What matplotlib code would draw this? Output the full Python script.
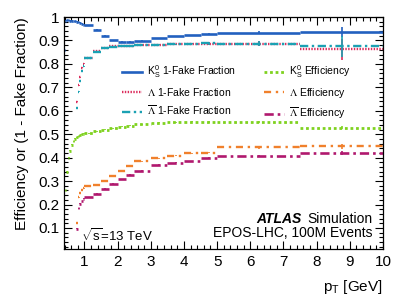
import numpy as np
import matplotlib
matplotlib.use("Agg")
import matplotlib.pyplot as plt
from matplotlib.lines import Line2D
from matplotlib.ticker import MultipleLocator, FuncFormatter

plt.rcParams["font.family"] = ["Liberation Sans", "DejaVu Sans"]
plt.rcParams["mathtext.fontset"] = "custom"
plt.rcParams["mathtext.rm"] = "Liberation Sans"
plt.rcParams["mathtext.it"] = "Liberation Sans:italic"

# pT bin edges [GeV]
edges = np.array([0.35, 0.40, 0.45, 0.50, 0.55, 0.60, 0.65, 0.70, 0.75, 0.80,
                  0.85, 0.90, 0.95, 1.00, 1.25, 1.50, 1.75, 2.00, 2.25, 2.50,
                  3.00, 3.50, 4.00, 4.50, 5.00, 7.50, 10.0])
nan = np.nan

# 1 - fake fraction
k0s_fake = [0.86, 0.985, 0.986, 0.986, 0.985, 0.984, 0.983, 0.982, 0.980, 0.978,
            0.975, 0.972, 0.968,
            0.964, 0.945, 0.920, 0.900, 0.894, 0.894, 0.899, 0.910, 0.917, 0.922,
            0.928, 0.934, 0.935]
lam_fake = [nan] * 8 + [0.639, 0.709, 0.743, 0.783, 0.800,
                        0.825, 0.853, 0.867, 0.875, 0.878, 0.878, 0.880, 0.882,
                        0.884, 0.886, 0.887, 0.886, 0.863]
alam_fake = [nan] * 8 + [0.611, 0.681, 0.726, 0.769, 0.790,
                         0.825, 0.852, 0.866, 0.874, 0.877, 0.878, 0.880, 0.882,
                         0.884, 0.886, 0.888, 0.887, 0.875]

# efficiencies
k0s_eff = [nan, 0.26, 0.34, 0.40, 0.43, 0.455, 0.47, 0.48, 0.487, 0.492, 0.496,
           0.499, 0.502,
           0.505, 0.512, 0.519, 0.526, 0.532, 0.536, 0.543, 0.549, 0.552, 0.553,
           0.553, 0.551, 0.527]
lam_eff = [nan] * 8 + [0.121, 0.231, 0.250, 0.264, 0.270,
                       0.277, 0.284, 0.300, 0.322, 0.344, 0.366, 0.384, 0.398,
                       0.409, 0.418, 0.422, 0.444, 0.448]
alam_eff = [nan] * 8 + [0.097, 0.185, 0.204, 0.215, 0.224,
                        0.232, 0.246, 0.267, 0.289, 0.307, 0.327, 0.345, 0.369,
                        0.379, 0.384, 0.397, 0.406, 0.420]

# statistical errors (low bins share one small value)
err_low = 0.002
k0s_fake_err = [0.002] * 10 + [0.004, 0.006, 0.022]
lam_fake_err = [0.003] * 10 + [0.006, 0.010, 0.045]
alam_fake_err = [0.003] * 10 + [0.006, 0.010, 0.045]
k0s_eff_err = [0.002] * 10 + [0.003, 0.004, 0.006]
lam_eff_err = [0.002] * 10 + [0.004, 0.005, 0.010]
alam_eff_err = [0.002] * 10 + [0.004, 0.005, 0.010]

series = [
    (r"K$^{0}_{\mathrm{S}}$ 1-Fake Fraction", k0s_fake, k0s_fake_err, "#2260bf", "-", 1.9),
    (r"$\Lambda$ 1-Fake Fraction", lam_fake, lam_fake_err, "#dc2c5c", (0, (0.6, 0.6)), 1.7),
    (r"$\overline{\Lambda}$ 1-Fake Fraction", alam_fake, alam_fake_err, "#1ba1b3", (0, (3.5, 1.5, 1, 1.5)), 1.7),
    (r"K$^{0}_{\mathrm{S}}$ Efficiency", k0s_eff, k0s_eff_err, "#7fd21f", (0, (1.0, 1.0)), 2.0),
    (r"$\Lambda$ Efficiency", lam_eff, lam_eff_err, "#f0802c", (0, (3, 2, 1, 2)), 1.7),
    (r"$\overline{\Lambda}$ Efficiency", alam_eff, alam_eff_err, "#b0186e", (0, (3.5, 1.5, 1, 1.5)), 1.9),
]

fig = plt.figure(figsize=(3.99, 2.99), dpi=100)
ax = fig.add_axes([0.160, 0.167, 0.800, 0.776])

lo, hi = edges[:-1], edges[1:]
centers = 0.5 * (lo + hi)
handles = []
for label, vals, errs, color, ls, lw in series:
    v = np.array(vals, dtype=float)
    e = np.array([err_low] * 13 + list(errs))
    ok = ~np.isnan(v)
    ax.hlines(v[ok], lo[ok], hi[ok], colors=color, linestyles=[ls], linewidth=lw)
    ax.vlines(centers[ok], v[ok] - e[ok], v[ok] + e[ok], colors=color, linewidth=1.2)
    handles.append(Line2D([], [], color=color, linestyle=ls, linewidth=lw, label=label))

ax.set_xlim(0.38, 10)
ax.set_ylim(0.01, 1.0)

ax.xaxis.set_major_locator(MultipleLocator(1))
ax.xaxis.set_minor_locator(MultipleLocator(0.2))
ax.yaxis.set_major_locator(MultipleLocator(0.1))
ax.yaxis.set_minor_locator(MultipleLocator(0.02))
ax.yaxis.set_major_formatter(FuncFormatter(lambda y, p: f"{y:.1f}" if y < 0.95 else "1"))
ax.tick_params(which="both", direction="in", top=True, right=True, labelsize=11)
ax.tick_params(which="major", length=6, width=0.8)
ax.tick_params(which="minor", length=3, width=0.8)
ax.tick_params(axis="y", pad=3)
ax.tick_params(axis="x", pad=4)
for s in ax.spines.values():
    s.set_linewidth(0.9)

ax.set_xlabel(r"p$_{\mathrm{T}}$ [GeV]", fontsize=11, loc="right")
ax.xaxis.set_label_coords(1.0, -0.125)
ax.set_ylabel("Efficiency or (1 - Fake Fraction)", fontsize=11, loc="top")
ax.yaxis.set_label_coords(-0.11, 1.0)

leg = ax.legend(handles=handles, ncol=2, frameon=False, fontsize=7.5,
                loc="upper left", bbox_to_anchor=(0.17, 0.818),
                handlelength=1.9, handletextpad=0.5, columnspacing=2.7,
                labelspacing=0.55, borderaxespad=0)
for t in leg.get_texts():
    if "Lambda" in t.get_text():
        t.set_math_fontfamily("stix")

ax.text(0.746, 0.128, "ATLAS", transform=ax.transAxes, fontsize=10,
        fontweight="bold", fontstyle="italic", ha="right", va="center")
ax.text(0.966, 0.128, "Simulation", transform=ax.transAxes, fontsize=10,
        ha="right", va="center")
ax.text(0.966, 0.068, "EPOS-LHC, 100M Events", transform=ax.transAxes,
        fontsize=10, ha="right", va="center")
ax.text(0.053, 0.060, r"$\sqrt{\mathrm{s}}$=13 TeV", transform=ax.transAxes,
        fontsize=9.5, ha="left", va="center")

fig.savefig("out.png", dpi=100)
